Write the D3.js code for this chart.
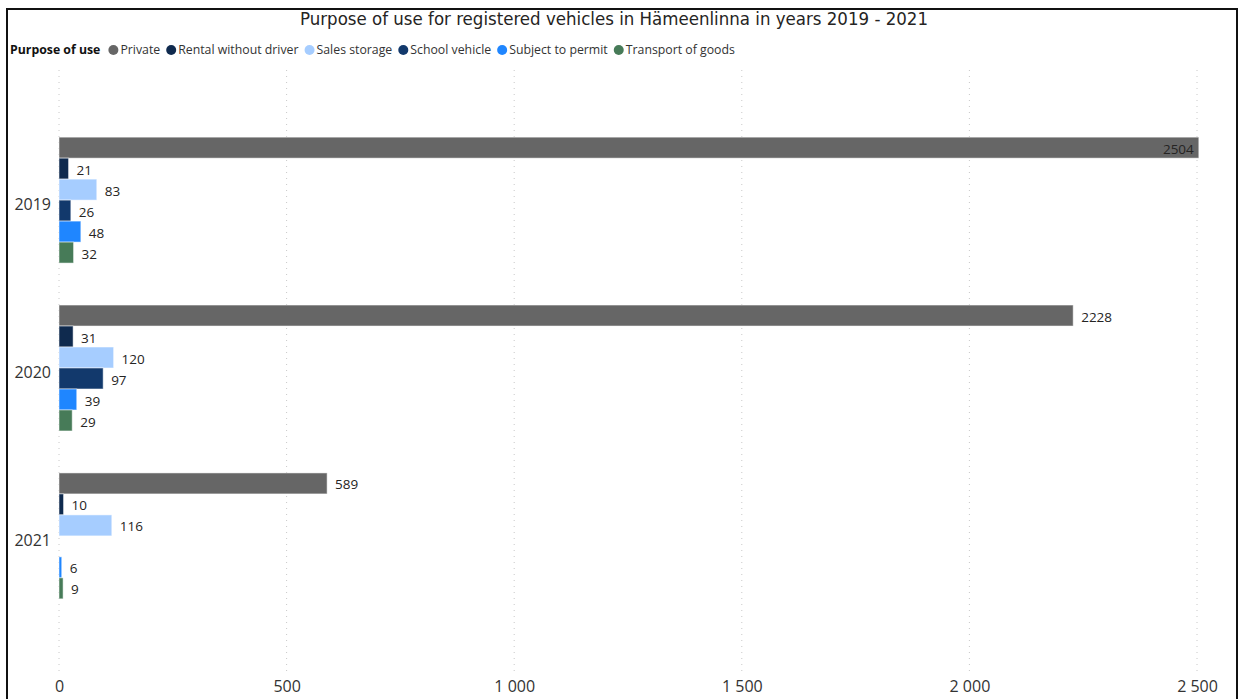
<!DOCTYPE html>
<html>
<head>
<meta charset="utf-8">
<script src="https://cdn.jsdelivr.net/npm/d3@7"></script>
<style>
  html, body { margin: 0; padding: 0; background: #fff; }
  svg { display: block; }
</style>
</head>
<body>
<svg id="chart" width="1241" height="699"></svg>
<script>
const years = ["2019", "2020", "2021"];
const purposes = ["Private", "Rental without driver", "Sales storage", "School vehicle", "Subject to permit", "Transport of goods"];
const colors = ["#666666", "#0f2a4e", "#a6cdff", "#12396c", "#1f86ff", "#477b58"];
const private_ = [2504, 2228, 589];
const rentalWithoutDriver = [21, 31, 10];
const salesStorage = [83, 120, 116];
const schoolVehicle = [26, 97, null];
const subjectToPermit = [48, 39, 6];
const transportOfGoods = [32, 29, 9];
const xTicks = [0, 500, 1000, 1500, 2000, 2500];
const xTickLabels = ["0", "500", "1 000", "1 500", "2 000", "2 500"];
const title = "Purpose of use for registered vehicles in Hämeenlinna in years 2019 - 2021";
const legendTitle = "Purpose of use";

const seriesValues = [private_, rentalWithoutDriver, salesStorage, schoolVehicle, subjectToPermit, transportOfGoods];

const svg = d3.select("#chart");
const font = "'Open Sans', 'Noto Sans', sans-serif";

// frame
svg.append("rect").attr("x", 7).attr("y", 9).attr("width", 1230).attr("height", 720)
  .attr("fill", "none").attr("stroke", "#111").attr("stroke-width", 2);

// title
svg.append("text").attr("x", 614).attr("y", 25).attr("text-anchor", "middle")
  .attr("font-family", "'DejaVu Sans Condensed', 'DejaVu Sans', sans-serif")
  .attr("font-size", 17.5).attr("fill", "#252423")
  .attr("textLength", 628).attr("lengthAdjust", "spacingAndGlyphs")
  .text(title);

// legend
const lg = svg.append("g").attr("font-family", font).attr("font-size", 12.3);
const lt = lg.append("text").attr("x", 10).attr("y", 54).attr("font-weight", "bold").attr("fill", "#111").text(legendTitle);
let lx = 10 + lt.node().getComputedTextLength() + 13;
purposes.forEach((p, i) => {
  lg.append("circle").attr("cx", lx).attr("cy", 50).attr("r", 5).attr("fill", colors[i]);
  const t = lg.append("text").attr("x", lx + 7).attr("y", 54).attr("fill", "#333").text(p);
  lx += 7 + t.node().getComputedTextLength() + 11;
});

// scales
const x = d3.scaleLinear().domain([0, 2500]).range([59, 1197]);
const y0 = d3.scaleBand().domain(years).range([70, 666]).paddingInner(0.25).paddingOuter(0.4);
const y1 = d3.scaleBand().domain(purposes).range([0, y0.bandwidth()]);

// gridlines
svg.append("g").selectAll("line").data(xTicks).join("line")
  .attr("x1", d => x(d)).attr("x2", d => x(d)).attr("y1", 70).attr("y2", 673)
  .attr("stroke", "#c8c8c8").attr("stroke-width", 1).attr("stroke-dasharray", "1,5");

// x axis
const xAxis = d3.axisBottom(x).tickValues(xTicks).tickFormat((d, i) => xTickLabels[i]).tickSize(0).tickPadding(0);
const xg = svg.append("g").attr("transform", "translate(0,681)").call(xAxis);
xg.select(".domain").remove();
xg.selectAll("text").attr("font-family", font).attr("font-size", 16).attr("fill", "#333");

// y axis
const yAxis = d3.axisLeft(y0).tickSize(0).tickPadding(8);
const yg = svg.append("g").attr("transform", "translate(59,0)").call(yAxis);
yg.select(".domain").remove();
yg.selectAll("text").attr("font-family", font).attr("font-size", 16).attr("fill", "#333").attr("dy", "0.62em");

// bars
const rows = [];
years.forEach((yr, yi) => {
  purposes.forEach((p, pi) => {
    const v = seriesValues[pi][yi];
    if (v !== null) rows.push({ yr, p, pi, v });
  });
});

const g = svg.append("g");
g.selectAll("rect").data(rows).join("rect")
  .attr("x", x(0))
  .attr("y", d => y0(d.yr) + y1(d.p))
  .attr("width", d => x(d.v) - x(0))
  .attr("height", y1.bandwidth())
  .attr("fill", d => colors[d.pi])
  .attr("stroke", "#fff").attr("stroke-opacity", 0.5).attr("stroke-width", 1);

g.selectAll("text").data(rows).join("text")
  .attr("font-family", font).attr("font-size", 13.5).attr("fill", "#252423")
  .attr("y", d => y0(d.yr) + y1(d.p) + y1.bandwidth() / 2)
  .attr("dy", "0.45em")
  .each(function(d) {
    const inside = x(d.v) + 40 > 1200;
    d3.select(this)
      .attr("x", inside ? x(d.v) - 5 : x(d.v) + 8)
      .attr("text-anchor", inside ? "end" : "start");
  })
  .text(d => d.v);
</script>
</body>
</html>
